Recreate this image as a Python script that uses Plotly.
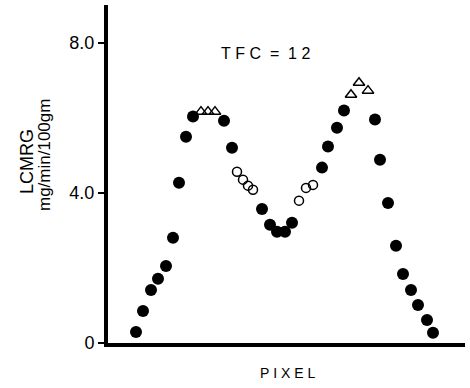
import plotly.graph_objects as go

# Filled circles (measured LCMRG)
filled_x = [28, 35, 43, 50, 58, 65, 71, 78, 85, 116, 124,
            154, 162, 169, 177, 184,
            214, 220, 229, 236,
            267, 272, 280, 288, 295, 303, 310, 319, 325]
filled_y = [0.29, 0.85, 1.41, 1.71, 2.05, 2.80, 4.27, 5.49, 6.03, 5.92, 5.20,
            3.57, 3.15, 2.96, 2.96, 3.20,
            4.67, 5.23, 5.73, 6.19,
            5.95, 4.88, 3.73, 2.59, 1.84, 1.41, 1.01, 0.61, 0.27]
# Open circles
open_x = [129, 135, 140, 145, 191, 198, 205]
open_y = [4.56, 4.35, 4.19, 4.08, 3.79, 4.13, 4.21]
# Open triangles
tri_x = [93, 100, 107, 243, 251, 260]
tri_y = [6.16, 6.16, 6.16, 6.61, 6.93, 6.72]

y_ticks = [0, 4, 8]
y_ticklabels = ["0", "4.0", "8.0"]

fig = go.Figure()
fig.add_trace(go.Scatter(x=filled_x, y=filled_y, mode="markers",
                         marker=dict(symbol="circle", size=12, color="black"),
                         showlegend=False))
fig.add_trace(go.Scatter(x=open_x, y=open_y, mode="markers",
                         marker=dict(symbol="circle-open", size=9, color="black",
                                     line=dict(width=1.5)),
                         showlegend=False))
fig.add_trace(go.Scatter(x=tri_x, y=tri_y, mode="markers",
                         marker=dict(symbol="triangle-up-open", size=10, color="black",
                                     line=dict(width=1.5)),
                         showlegend=False))

font = "Liberation Sans, Arial, sans-serif"
NB = "\u00a0"
W, H = 470, 388
L, R, T, B = 108, 5, 5, 45
pw, ph = W - L - R, H - T - B


def px_ann(text, x, y, size, angle=0):
    return dict(text=text, x=(x - L) / pw, y=1 - (y - T) / ph,
                xref="paper", yref="paper", showarrow=False, textangle=angle,
                xanchor="center", yanchor="middle",
                font=dict(size=size, family=font, color="black"))


fig.update_layout(
    width=W, height=H,
    margin=dict(l=L, r=R, t=T, b=B),
    plot_bgcolor="white", paper_bgcolor="white",
    font=dict(family=font, color="black", size=14),
    xaxis=dict(range=[0, 357], showgrid=False, zeroline=False, showticklabels=False,
               showline=True, linecolor="black", linewidth=4, ticks=""),
    yaxis=dict(range=[0, 9.0], showgrid=False, zeroline=False,
               tickvals=y_ticks, ticktext=y_ticklabels,
               ticks="outside", ticklen=6, tickwidth=2, tickcolor="black",
               showline=True, linecolor="black", linewidth=4,
               tickfont=dict(size=18, family=font)),
    annotations=[
        px_ann(f"T{NB}F{NB}C{NB}{NB}={NB}{NB}1{NB}2", 265, 54, 16),
        px_ann(f"P{NB}I{NB}X{NB}E{NB}L", 287, 373, 14),
        px_ann("LCMRG", 27, 162, 18, -90),
        px_ann("mg/min/100gm", 44, 155, 17, -90),
    ],
)

fig.write_html("out.html", config={"displayModeBar": False},
               post_script="document.body.style.margin='0';document.body.style.padding='0';")
